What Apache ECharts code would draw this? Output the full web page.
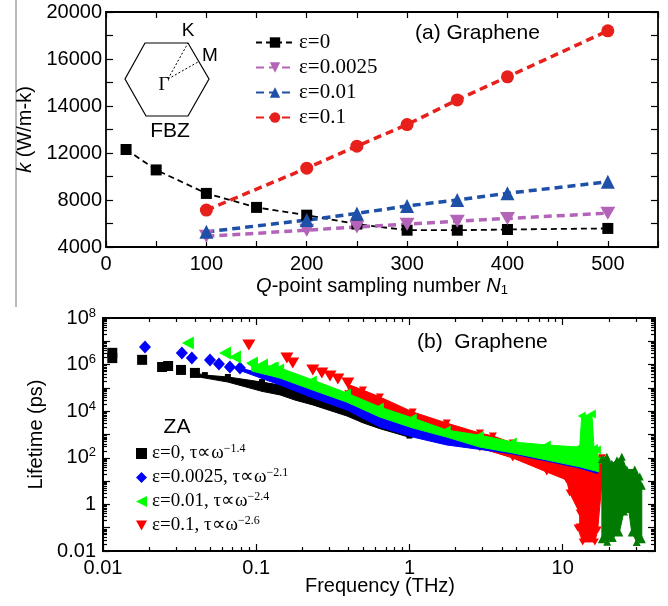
<!DOCTYPE html>
<html>
<head>
<meta charset="utf-8">
<title>Graphene</title>
<script src="https://cdn.jsdelivr.net/npm/echarts@6.0.0/dist/echarts.min.js"></script>
<style>
html,body{margin:0;padding:0;background:#ffffff;}
#chart{width:668px;height:606px;}
</style>
</head>
<body>
<div id="chart"></div>
<script>
// ===== Panel (a): thermal conductivity k vs Q-point sampling number N1 =====
const A_N_EPS0 = [20, 50, 100, 150, 200, 250, 300, 350, 400, 500];
const A_K_EPS0 = [12150, 10560, 8560, 7370, 6710, 5950, 5430, 5430, 5490, 5580];
const A_N_STRAIN = [100, 200, 250, 300, 350, 400, 500];
const A_K_EPS00025 = [4910, 5430, 5710, 5940, 6200, 6430, 6880];
const A_K_EPS001 = [5290, 6290, 6860, 7490, 8000, 8570, 9550];
const A_K_EPS01 = [7140, 10710, 12290, 13210, 14260, 15240, 18400];
const A_Y_TICK_LABELS = [4000, 8000, 12000, 14000, 16000, 20000];
const A_NAMES = ['ε=0', 'ε=0.0025', 'ε=0.01', 'ε=0.1'];

// ===== Panel (b): ZA phonon lifetime vs frequency (log-log) =====
// isolated low-frequency markers, and upper/lower edges of the dense bands  [f (THz), tau (ps)]
const B_EPS0_POINTS = [[0.0115,3.2e6],[0.0115,1.9e6],[0.018,1.6e6],[0.0243,7.9e5],[0.0266,8.7e5],[0.0323,5.9e5],[0.0398,4.4e5]];
const B_EPS0_UPPER = [[0.0398,4.4e5],[0.0462,3.55e5],[0.0653,2.95e5],[0.109,1.78e5],[0.143,1.32e5],[0.234,4.0e4],[0.389,1.2e4],[0.501,4.5e3],[0.641,3.0e3],[1.0,9.0e2]];
const B_EPS0_LOWER = [[0.0398,3.16e5],[0.0653,1.78e5],[0.109,7.1e4],[0.143,5.0e4],[0.179,3.0e4],[0.234,1.86e4],[0.391,6.2e3],[0.501,3.1e3],[0.641,1.78e3],[1.0,7.6e2]];

const B_EPS00025_POINTS = [[0.0188,5.75e6],[0.0327,3.16e6],[0.038,1.91e6],[0.0499,1.58e6],[0.0571,1.07e6],[0.0673,7.9e5],[0.0783,7.1e5]];
const B_EPS00025_UPPER = [[0.0783,7.1e5],[0.143,2.63e5],[0.234,8.1e4],[0.391,2.45e4],[0.641,5.6e3],[1.05,1.91e3],[1.75,776],[2.88,355],[4.72,200],[7.87,100],[12.9,56],[13.3,2.0e3],[15.5,3.2e3],[15.9,40],[16.9,25]];
const B_EPS00025_LOWER = [[0.0783,5.6e5],[0.143,1.32e5],[0.234,3.72e4],[0.391,1.12e4],[0.641,2.09e3],[1.05,776],[1.75,355],[2.88,229],[4.72,145],[7.87,72],[12.9,36],[16.9,21]];

const B_EPS001_POINTS = [[0.0358,8.5e6],[0.0625,3.16e6],[0.0726,2.14e6],[0.0938,1.17e6],[0.109,9.5e5],[0.128,7.1e5]];
const B_EPS001_UPPER = [[0.0933,1.0e6],[0.128,8.5e5],[0.143,7.2e5],[0.234,2.19e5],[0.391,6.0e4],[0.641,1.51e4],[1.05,5.1e3],[1.75,1.55e3],[2.88,933],[4.72,479],[7.87,355],[12.9,288],[13.3,6.2e3],[15.5,7.6e3],[16.0,251],[16.7,214],[17.2,79]];
const B_EPS001_LOWER = [[0.0933,5.3e5],[0.128,3.2e5],[0.143,2.63e5],[0.234,8.1e4],[0.391,2.45e4],[0.641,5.6e3],[1.05,1.91e3],[1.75,776],[2.88,288],[4.72,162],[7.87,81],[12.9,41],[17.2,25]];

const B_EPS01_POINTS = [[0.0895,6.9e6],[0.1585,1.91e6],[0.173,1.17e6],[0.234,5.9e5],[0.268,4.4e5],[0.303,3.24e5],[0.341,2.4e5],[0.396,1.62e5]];
const B_EPS01_UPPER = [[0.398,1.41e5],[0.497,8.1e4],[0.641,4.07e4],[1.05,9.3e3],[1.75,3.09e3],[2.88,1.15e3],[3.5,871],[4.72,427],[7.87,251],[12.9,200],[18.0,100],[19.4,41]];
const B_EPS01_LOWER = [[0.398,5.6e4],[0.641,1.41e4],[1.05,4.0e3],[1.75,1.0e3],[2.88,263],[4.72,98],[7.87,24.5],[10.6,11.2],[11.1,3.1],[12.9,0.43],[12.9,0.107],[12.5,0.098],[13.5,0.0245],[16.2,0.0245],[16.9,0.079],[18.0,8.3]];

const B_HIGH_UPPER = [[18.0,89],[19.4,112],[20.9,56],[22.6,79],[24.3,112],[26.2,31.6],[29.5,31.6],[31.8,15.8],[32.8,6.3]];
const B_HIGH_LOWER = [[18.0,0.0316],[19.5,0.025],[21.2,0.036],[23.4,0.063],[25.1,0.5],[26.9,0.63],[28.2,0.063],[30.4,0.0245],[32.8,0.0316]];

const B_LEGEND = [['ε=0, τ∝ω', '−1.4'], ['ε=0.0025, τ∝ω', '−2.1'], ['ε=0.01, τ∝ω', '−2.4'], ['ε=0.1, τ∝ω', '−2.6']];
const B_X_DECADES = [0.01, 0.1, 1, 10];
const B_Y_DECADES = [0.01, 0.1, 1, 10, 100, 1e3, 1e4, 1e5, 1e6, 1e7, 1e8];
const B_Y_LABELED = [0.01, 1, 100, 1e4, 1e6, 1e8];
const LOG_MINOR_MULT = [2, 3, 4, 5, 6, 7, 8, 9];
const B_X_MAX = 40;

// ---------- helpers ----------
function kToPos(k) {
  const t = A_Y_TICK_LABELS;
  for (let i = 0; i < t.length - 1; i++) {
    if (k <= t[i + 1] || i === t.length - 2) return i + (k - t[i]) / (t[i + 1] - t[i]);
  }
}
const B_X_MINOR = [];
B_X_DECADES.forEach(d => LOG_MINOR_MULT.forEach(m => { if (d * m < B_X_MAX) B_X_MINOR.push(d * m); }));
const B_Y_MINOR = [];
B_Y_DECADES.slice(0, -1).forEach(d => LOG_MINOR_MULT.forEach(m => B_Y_MINOR.push(d * m)));

const SANS = 'Liberation Sans';
const SERIF = 'Liberation Serif';
const AX_LINE = { show: true, onZero: false, lineStyle: { color: '#000', width: 1.8 } };

function expOf(v) { return Math.round(Math.log10(v)); }

const supRich = {
  b: { fontFamily: SANS, fontSize: 20, color: '#000' },
  s: { fontFamily: SANS, fontSize: 13, color: '#000', padding: [0, 0, 10, 0] }
};

function logX(pos, tickVals, len, labels) {
  return {
    type: 'log', gridIndex: 1, position: pos, min: 0.01, max: B_X_MAX, logBase: 10,
    axisLine: AX_LINE,
    axisTick: { show: true, inside: true, length: len, customValues: tickVals, lineStyle: { color: '#000', width: 1.2 } },
    axisLabel: labels ? {
      show: true, margin: 7, customValues: B_X_DECADES, color: '#000', fontFamily: SANS, fontSize: 20,
      formatter: v => { const e = expOf(v); return e >= 0 ? String(Math.pow(10, e)) : (e === -1 ? '0.1' : '0.01'); }
    } : { show: false },
    splitLine: { show: false }, minorTick: { show: false }
  };
}
function logY(pos, tickVals, len, labels) {
  return {
    type: 'log', gridIndex: 1, position: pos, min: 0.01, max: 1e8, logBase: 10,
    axisLine: AX_LINE,
    axisTick: { show: true, inside: true, length: len, customValues: tickVals, lineStyle: { color: '#000', width: 1.2 } },
    axisLabel: labels ? {
      show: true, margin: 7, customValues: B_Y_LABELED, color: '#000', fontFamily: SANS, fontSize: 20, rich: supRich,
      formatter: v => { const e = expOf(v); if (e === 0) return '{b|1}'; if (e === -2) return '{b|0.01}'; return '{b|10}{s|' + e + '}'; }
    } : { show: false },
    splitLine: { show: false }, minorTick: { show: false }
  };
}

function lineA(name, xs, ks, color, symbol, size, width, dash) {
  return {
    type: 'line', name, xAxisIndex: 0, yAxisIndex: 0,
    data: xs.map((n, i) => [n, kToPos(ks[i])]),
    symbol, symbolSize: size, showSymbol: true,
    itemStyle: { color }, lineStyle: { color, width, type: dash }, animation: false
  };
}

function band(name, upper, lower, color, z) {
  const poly = upper.concat(lower.slice().reverse());
  return {
    type: 'custom', name: name + ' band', xAxisIndex: 2, yAxisIndex: 2, silent: true, animation: false, z,
    clip: true, data: [poly[0]],
    renderItem: (params, api) => ({
      type: 'polygon',
      shape: { points: poly.map(p => api.coord(p)) },
      style: { fill: color, stroke: color, lineWidth: 1 }
    })
  };
}
function scat(name, data, color, symbol, size, z) {
  return {
    type: 'scatter', name, xAxisIndex: 2, yAxisIndex: 2, data, symbol, symbolSize: size,
    itemStyle: { color, opacity: 1 }, z, animation: false, silent: true
  };
}

const LEFT_TRI = 'path://M0,5L10,0L10,10Z';
const DOWN_TRI = 'path://M0,0L10,0L5,9Z';
const C = { k: '#000000', b: '#0000ff', g: '#00ff00', r: '#ff0000', dg: '#007a00' };
const BN = B_LEGEND.map(l => l[0] + l[1]);

const chart = echarts.init(document.getElementById('chart'), null, { renderer: 'canvas' });
const option = {
  backgroundColor: '#ffffff',
  animation: false,
  grid: [
    { left: 106, right: 10, top: 12, bottom: 359, containLabel: false },
    { left: 103, right: 13, top: 318, bottom: 55, containLabel: false }
  ],
  xAxis: [
    { type: 'value', gridIndex: 0, position: 'bottom', min: 0, max: 550, interval: 100,
      axisLine: AX_LINE,
      axisTick: { show: true, inside: true, length: 6, lineStyle: { color: '#000', width: 1.2 } },
      minorTick: { show: true, splitNumber: 2, length: 6, lineStyle: { color: '#000', width: 1.2 } },
      axisLabel: { show: true, margin: 7, color: '#000', fontFamily: SANS, fontSize: 20, showMaxLabel: false },
      splitLine: { show: false },
      name: '{i|Q}-point sampling number {i|N}{sub|1}', nameLocation: 'middle', nameGap: 28,
      nameTextStyle: { fontFamily: SANS, fontSize: 20, color: '#000',
        rich: { i: { fontFamily: SANS, fontSize: 20, fontStyle: 'italic', color: '#000' },
                sub: { fontFamily: SANS, fontSize: 13, color: '#000', padding: [9, 0, 0, 0] } } } },
    { type: 'value', gridIndex: 0, position: 'top', min: 0, max: 550, interval: 100,
      axisLine: AX_LINE,
      axisTick: { show: true, inside: true, length: 6, lineStyle: { color: '#000', width: 1.2 } },
      minorTick: { show: true, splitNumber: 2, length: 6, lineStyle: { color: '#000', width: 1.2 } },
      axisLabel: { show: false }, splitLine: { show: false } },
    logX('bottom', B_X_DECADES, 7, true),
    logX('top', B_X_DECADES, 7, false),
    logX('bottom', B_X_MINOR, 4, false),
    logX('top', B_X_MINOR, 4, false)
  ],
  yAxis: [
    { type: 'value', gridIndex: 0, position: 'left', min: 0, max: 5, interval: 1,
      axisLine: AX_LINE,
      axisTick: { show: true, inside: true, length: 7, lineStyle: { color: '#000', width: 1.2 } },
      minorTick: { show: true, splitNumber: 2, length: 7, lineStyle: { color: '#000', width: 1.2 } },
      axisLabel: { show: true, margin: 4, color: '#000', fontFamily: SANS, fontSize: 20,
        formatter: v => String(A_Y_TICK_LABELS[Math.round(v)]) },
      splitLine: { show: false },
      name: '{i|k} (W/m-k)', nameLocation: 'middle', nameGap: 64,
      nameTextStyle: { fontFamily: SANS, fontSize: 20, color: '#000',
        rich: { i: { fontFamily: SANS, fontSize: 20, fontStyle: 'italic', color: '#000' } } } },
    { type: 'value', gridIndex: 0, position: 'right', min: 0, max: 5, interval: 1,
      axisLine: AX_LINE,
      axisTick: { show: true, inside: true, length: 7, lineStyle: { color: '#000', width: 1.2 } },
      minorTick: { show: true, splitNumber: 2, length: 7, lineStyle: { color: '#000', width: 1.2 } },
      axisLabel: { show: false }, splitLine: { show: false } },
    Object.assign(logY('left', B_Y_DECADES, 7, true), {
      name: 'Lifetime (ps)', nameLocation: 'middle', nameGap: 47,
      nameTextStyle: { fontFamily: SANS, fontSize: 20, color: '#000' } }),
    logY('right', B_Y_DECADES, 7, false),
    logY('left', B_Y_MINOR, 4, false),
    logY('right', B_Y_MINOR, 4, false)
  ],
  legend: [
    { orient: 'vertical', left: 250, top: 27, itemWidth: 38, itemHeight: 13, itemGap: 4,
      selectedMode: false, data: A_NAMES,
      textStyle: { fontFamily: SERIF, fontSize: 21, color: '#000', lineHeight: 20 } },
    { orient: 'vertical', left: 131, top: 438, itemWidth: 11, itemHeight: 11, itemGap: 4,
      selectedMode: false,
      data: [
        { name: BN[0], icon: 'rect' },
        { name: BN[1], icon: 'diamond' },
        { name: BN[2], icon: LEFT_TRI },
        { name: BN[3], icon: DOWN_TRI }
      ],
      formatter: name => { const l = B_LEGEND[BN.indexOf(name)]; return '{t|' + l[0] + '}{s|' + l[1] + '}'; },
      textStyle: { fontFamily: SERIF, fontSize: 19, color: '#000', lineHeight: 19,
        rich: { t: { fontFamily: SERIF, fontSize: 19, color: '#000' },
                s: { fontFamily: SERIF, fontSize: 12, color: '#000', padding: [0, 0, 9, 0] } } } }
  ],
  graphic: [
    { type: 'line', shape: { x1: 16, y1: 0, x2: 16, y2: 307 }, style: { stroke: '#777', lineWidth: 1 } },
    { type: 'polygon', shape: { points: [[145, 43], [188, 43], [209, 79], [188, 116], [146, 116], [125, 79]] },
      style: { fill: 'none', stroke: '#000', lineWidth: 1.2 } },
    { type: 'line', shape: { x1: 168, y1: 79, x2: 188, y2: 43 }, style: { stroke: '#000', lineWidth: 1, lineDash: [2, 2] } },
    { type: 'line', shape: { x1: 168, y1: 79, x2: 198, y2: 62 }, style: { stroke: '#000', lineWidth: 1, lineDash: [2, 2] } },
    { type: 'text', x: 188, y: 31, style: { text: 'K', font: '19px "Liberation Sans"', fill: '#000', textAlign: 'center', textVerticalAlign: 'middle' } },
    { type: 'text', x: 210, y: 56, style: { text: 'M', font: '19px "Liberation Sans"', fill: '#000', textAlign: 'center', textVerticalAlign: 'middle' } },
    { type: 'text', x: 164, y: 85, style: { text: 'Γ', font: '19px "Liberation Serif"', fill: '#000', textAlign: 'center', textVerticalAlign: 'middle' } },
    { type: 'text', x: 170, y: 131, style: { text: 'FBZ', font: '21px "Liberation Sans"', fill: '#000', textAlign: 'center', textVerticalAlign: 'middle' } },
    { type: 'text', x: 415, y: 33, style: { text: '(a) Graphene', font: '21px "Liberation Sans"', fill: '#000', textAlign: 'left', textVerticalAlign: 'middle' } },
    { type: 'text', x: 417, y: 342, style: { text: '(b)  Graphene', font: '21px "Liberation Sans"', fill: '#000', textAlign: 'left', textVerticalAlign: 'middle' } },
    { type: 'text', x: 177, y: 427, style: { text: 'ZA', font: '21px "Liberation Sans"', fill: '#000', textAlign: 'center', textVerticalAlign: 'middle' } },
    { type: 'text', x: 380, y: 586, style: { text: 'Frequency (THz)', font: '20px "Liberation Sans"', fill: '#000', textAlign: 'center', textVerticalAlign: 'middle' } }
  ],
  series: [
    lineA(A_NAMES[0], A_N_EPS0, A_K_EPS0, '#000000', 'rect', 11, 1.8, [6, 4]),
    lineA(A_NAMES[1], A_N_STRAIN, A_K_EPS00025, '#b464b8', DOWN_TRI, [15, 13], 3.5, [8, 5]),
    lineA(A_NAMES[2], A_N_STRAIN, A_K_EPS001, '#1f50a8', 'triangle', 14, 3.5, [8, 5]),
    lineA(A_NAMES[3], A_N_STRAIN, A_K_EPS01, '#e8201c', 'circle', 13, 3.5, [8, 5]),

    band('b0', B_EPS0_UPPER, B_EPS0_LOWER, C.k, 2),
    scat(BN[0], B_EPS0_POINTS, C.k, 'rect', 10, 3),
    scat('b0 edge', B_EPS0_UPPER, C.k, 'rect', 6, 3),

    band('b3', B_EPS01_UPPER, B_EPS01_LOWER, C.r, 4),
    scat(BN[3], B_EPS01_POINTS, C.r, DOWN_TRI, [13, 11], 5),
    scat('b3 edge', B_EPS01_UPPER.concat(B_EPS01_LOWER), C.r, DOWN_TRI, [8, 7], 5),

    band('b1', B_EPS00025_UPPER, B_EPS00025_LOWER, C.b, 6),
    scat(BN[1], B_EPS00025_POINTS, C.b, 'diamond', [12, 13], 7),

    band('b2', B_EPS001_UPPER, B_EPS001_LOWER, C.g, 8),
    scat(BN[2], B_EPS001_POINTS, C.g, LEFT_TRI, [12, 13], 9),
    scat('b2 edge', B_EPS001_UPPER, C.g, LEFT_TRI, [8, 9], 9),

    band('high', B_HIGH_UPPER, B_HIGH_LOWER, C.dg, 10),
    scat('high edge', B_HIGH_UPPER.concat(B_HIGH_LOWER), C.dg, 'triangle', [8, 8], 10)
  ]
};
chart.setOption(option);
</script>
</body>
</html>
